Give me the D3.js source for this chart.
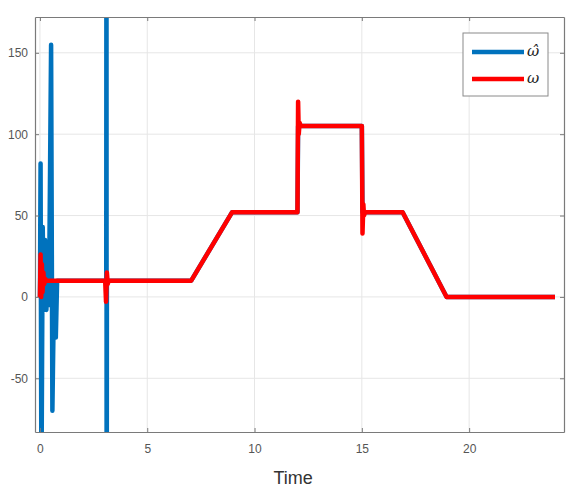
<!DOCTYPE html>
<html><head><meta charset="utf-8">
<script src="https://cdn.jsdelivr.net/npm/d3@7"></script>
<style>
body{margin:0;background:#fff;}
text{font-family:"Liberation Sans",Arial,sans-serif;}
</style></head>
<body><svg id="c" width="577" height="491"></svg>
<script>
// Data
const xTicks = [0, 5, 10, 15, 20];
const yTicks = [-50, 0, 50, 100, 150];
const xDomain = [-0.23, 24.42];
const yDomain = [-83, 172];
const seriesNames = ["\u03c9\u0302", "\u03c9"];
const omegaHatT = [0, 0.03, 0.07, 0.13, 0.18, 0.24, 0.3, 0.36, 0.42, 0.52, 0.58, 0.66, 0.74, 0.8, 3.09, 3.1, 3.11, 3.12, 7.05, 8.95, 12.0, 12.03, 15.0, 15.03, 16.9, 18.95, 24];
const omegaHatV = [0, 82, -120, 43, -8, 35, -8, 20, -5, 155, -70, 8, -25, 10, 10, 300, -300, 10, 10, 52, 52, 105, 105, 52, 52, 0, 0];
const omegaT = [0, 0.03, 0.06, 0.09, 0.12, 0.16, 0.2, 0.25, 0.3, 3.04, 3.08, 3.12, 3.16, 3.2, 7.05, 8.95, 12.0, 12.03, 12.06, 12.1, 12.15, 15.0, 15.03, 15.07, 15.1, 15.15, 16.9, 18.95, 24];
const omegaV = [0, 26, 0, 20, 3, 15, 8, 11, 10, 10, -3, 15, 8, 10, 10, 52, 52, 120, 100, 107, 105, 105, 39, 57, 50, 52, 52, 0, 0];
const colors = ["#0072BD", "#FF0000"];

const W = 577, H = 491;
const m = {left: 35, top: 17, right: 13, bottom: 59};
const svg = d3.select("#c");
const x = d3.scaleLinear().domain(xDomain).range([m.left, W - m.right]);
const y = d3.scaleLinear().domain(yDomain).range([H - m.bottom, m.top]);
const pw = W - m.left - m.right, ph = H - m.top - m.bottom;

svg.append("rect").attr("x", m.left).attr("y", m.top).attr("width", pw).attr("height", ph).attr("fill", "#fff");

// grid
svg.append("g").selectAll("line").data(xTicks).join("line")
  .attr("x1", d => x(d)).attr("x2", d => x(d)).attr("y1", m.top).attr("y2", H - m.bottom)
  .attr("stroke", "#e6e6e6").attr("stroke-width", 1);
svg.append("g").selectAll("line").data(yTicks).join("line")
  .attr("y1", d => y(d)).attr("y2", d => y(d)).attr("x1", m.left).attr("x2", W - m.right)
  .attr("stroke", "#e6e6e6").attr("stroke-width", 1);

svg.append("defs").append("clipPath").attr("id", "clip").append("rect")
  .attr("x", m.left).attr("y", m.top).attr("width", pw).attr("height", ph);

const line = d3.line().x(d => x(d[0])).y(d => y(d[1]));
const s1 = omegaHatT.map((t, i) => [t, omegaHatV[i]]);
const s2 = omegaT.map((t, i) => [t, omegaV[i]]);
const g = svg.append("g").attr("clip-path", "url(#clip)");
g.append("path").datum(s1).attr("d", line).attr("fill", "none").attr("stroke", colors[0]).attr("stroke-width", 4.5).attr("stroke-linejoin", "round");
g.append("path").datum(s2).attr("d", line).attr("fill", "none").attr("stroke", colors[1]).attr("stroke-width", 4.5).attr("stroke-linejoin", "round");

// axes
const axCol = "#7a7a7a";
const tickCol = "#555";
const fmt = d => String(d);
const xb = svg.append("g").attr("transform", `translate(0,${H - m.bottom})`)
  .call(d3.axisBottom(x).tickValues(xTicks).tickSizeInner(-4).tickSizeOuter(0).tickPadding(12).tickFormat(fmt));
const xt = svg.append("g").attr("transform", `translate(0,${m.top})`)
  .call(d3.axisTop(x).tickValues(xTicks).tickSizeInner(-4).tickSizeOuter(0).tickFormat(""));
const yl = svg.append("g").attr("transform", `translate(${m.left},0)`)
  .call(d3.axisLeft(y).tickValues(yTicks).tickSizeInner(-4).tickSizeOuter(0).tickPadding(7).tickFormat(fmt));
const yr = svg.append("g").attr("transform", `translate(${W - m.right},0)`)
  .call(d3.axisRight(y).tickValues(yTicks).tickSizeInner(-4).tickSizeOuter(0).tickFormat(""));
[xb, xt, yl, yr].forEach(a => {
  a.selectAll("path").attr("stroke", axCol).attr("stroke-width", 1.2);
  a.selectAll("line").attr("stroke", axCol);
  a.selectAll("text").attr("fill", tickCol).style("font-size", "12px").style("font-family", "'Liberation Sans',Arial,sans-serif");
});

svg.append("text").attr("x", x(11.8)).attr("y", 484).attr("text-anchor", "middle")
  .attr("fill", "#333").style("font-size", "18px").text("Time");

// legend
const lg = svg.append("g");
lg.append("rect").attr("x", 463).attr("y", 33).attr("width", 85).attr("height", 63)
  .attr("fill", "#fff").attr("stroke", "#8a8a8a").attr("stroke-width", 1);
seriesNames.forEach((n, i) => {
  const yy = 52 + i * 27;
  lg.append("line").attr("x1", 472).attr("x2", 524).attr("y1", yy).attr("y2", yy)
    .attr("stroke", colors[i]).attr("stroke-width", 4.5);
  lg.append("text").attr("x", 527).attr("y", yy + 4).attr("fill", "#222")
    .style("font-size", "15px").style("font-family", "'DejaVu Serif',serif").style("font-style", "italic").text(n);
});
</script></body></html>
